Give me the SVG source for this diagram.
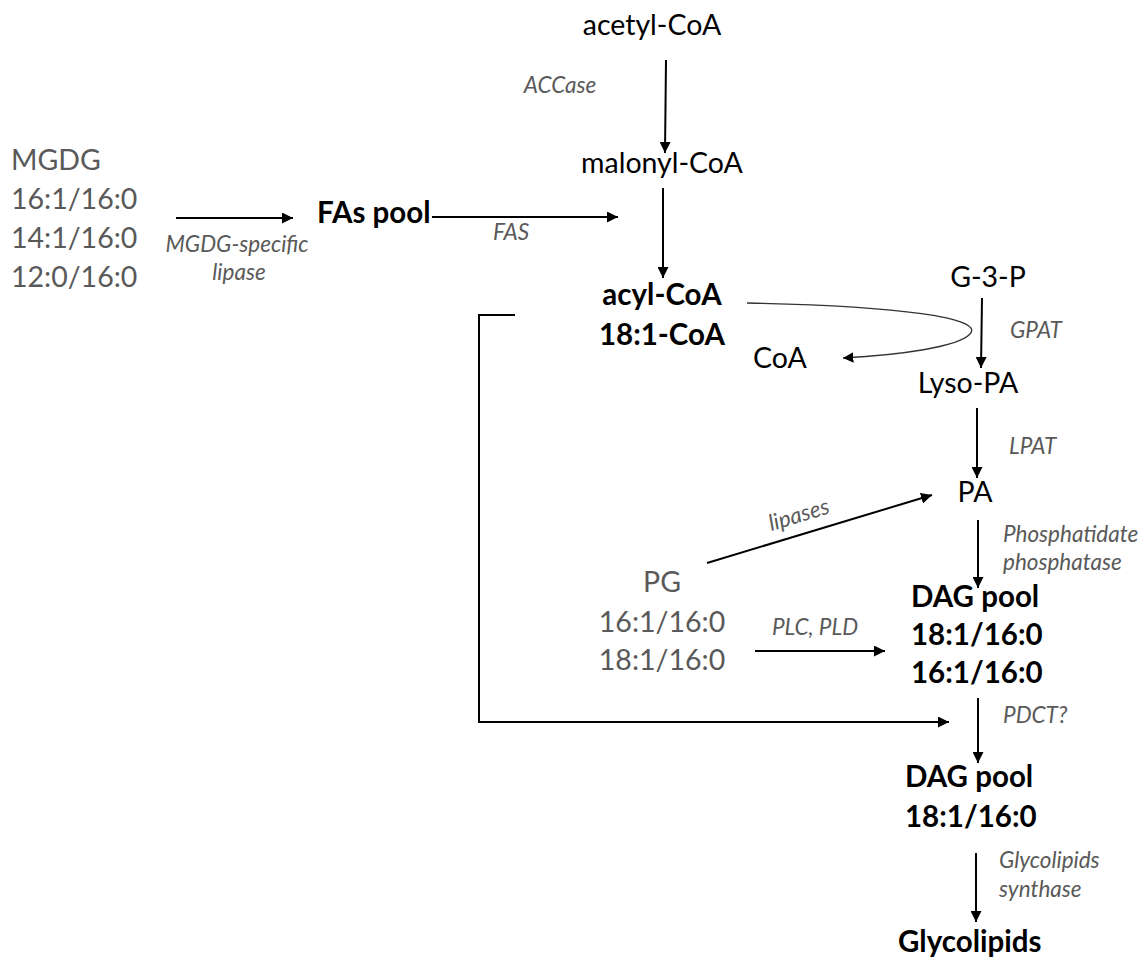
<svg xmlns="http://www.w3.org/2000/svg" width="1146" height="960" viewBox="0 0 1146 960">
<defs>
<marker id="ah" viewBox="0 0 10 10" refX="10" refY="5" markerWidth="5.5" markerHeight="5.5" orient="auto" markerUnits="strokeWidth">
<path d="M0,0 L10,5 L0,10 z" fill="#000"/>
</marker>
<marker id="ah2" viewBox="0 0 10 10" refX="10" refY="5" markerWidth="8" markerHeight="8" orient="auto" markerUnits="strokeWidth">
<path d="M0,0 L10,5 L0,10 z" fill="#000"/>
</marker>
</defs>
<style>
text{font-family:Lato,"Liberation Sans",sans-serif;}
.m{font-size:28.5px;fill:#000;}
.b{font-size:29.5px;font-weight:bold;fill:#000;}
.g{font-size:28.5px;fill:#595959;}
.e{font-size:22.5px;font-style:italic;fill:#595959;}
.c{text-anchor:middle;}
.ln{stroke:#000;stroke-width:2;fill:none;marker-end:url(#ah);}
</style>
<rect width="1146" height="960" fill="#fff"/>
<g id="connectors">
<line class="ln" x1="666" y1="60" x2="665" y2="153"/>
<line class="ln" x1="663" y1="188" x2="663" y2="278"/>
<line class="ln" x1="176" y1="218" x2="293" y2="218"/>
<line class="ln" x1="432" y1="217" x2="618" y2="217"/>
<path d="M747,303 C900,306 985,318 970,334 C958,347 900,355 843,358" stroke="#333" stroke-width="1.3" fill="none" marker-end="url(#ah2)"/>
<line class="ln" x1="982" y1="298" x2="981" y2="368"/>
<line class="ln" x1="977" y1="408" x2="977" y2="478"/>
<line class="ln" x1="707" y1="563" x2="932" y2="495"/>
<line class="ln" x1="978" y1="520" x2="978" y2="588"/>
<line class="ln" x1="755" y1="651" x2="885" y2="651"/>
<line class="ln" x1="978" y1="698" x2="978" y2="763"/>
<polyline class="ln" points="515,315 479,315 479,722 949,722"/>
<line class="ln" x1="976" y1="853" x2="976" y2="922"/>
</g>
<g id="acetyl"><text class="m c" x="652" y="35">acetyl-CoA</text></g>
<g id="accase"><text class="e c" x="560" y="93">ACCase</text></g>
<g id="malonyl"><text class="m c" x="662" y="173">malonyl-CoA</text></g>
<g id="mgdg">
<text class="g" x="11" y="170">MGDG</text>
<text class="g" x="11" y="209">16:1/16:0</text>
<text class="g" x="11" y="248">14:1/16:0</text>
<text class="g" x="11" y="287">12:0/16:0</text>
</g>
<g id="mgdg-lipase"><text class="e c" x="237" y="252">MGDG-specific</text><text class="e c" x="239" y="280">lipase</text></g>
<g id="fas-pool"><text class="b" x="317" y="223">FAs pool</text></g>
<g id="fas"><text class="e c" x="511" y="240">FAS</text></g>
<g id="acyl"><text class="b c" x="662" y="305">acyl-CoA</text><text class="b c" x="662" y="345">18:1-CoA</text></g>
<g id="coa"><text class="m c" x="780" y="368">CoA</text></g>
<g id="g3p"><text class="m c" x="988" y="287">G-3-P</text></g>
<g id="gpat"><text class="e" x="1010" y="338">GPAT</text></g>
<g id="lysopa"><text class="m c" x="968" y="393">Lyso-PA</text></g>
<g id="lpat"><text class="e" x="1009" y="454">LPAT</text></g>
<g id="pa"><text class="m c" x="975" y="502">PA</text></g>
<g id="lipases"><text class="e c" transform="translate(801,522) rotate(-17)">lipases</text></g>
<g id="pp"><text class="e" x="1003" y="542">Phosphatidate</text><text class="e" x="1003" y="570">phosphatase</text></g>
<g id="pg">
<text class="g c" x="662" y="592">PG</text>
<text class="g c" x="662" y="632">16:1/16:0</text>
<text class="g c" x="662" y="670">18:1/16:0</text>
</g>
<g id="plc"><text class="e c" x="815" y="635">PLC, PLD</text></g>
<g id="dag1">
<text class="b" x="911" y="607">DAG pool</text>
<text class="b" x="911" y="645">18:1/16:0</text>
<text class="b" x="911" y="683">16:1/16:0</text>
</g>
<g id="pdct"><text class="e" x="1003" y="723">PDCT?</text></g>
<g id="dag2">
<text class="b" x="905" y="787">DAG pool</text>
<text class="b" x="905" y="827">18:1/16:0</text>
</g>
<g id="gs"><text class="e" x="999" y="868">Glycolipids</text><text class="e" x="999" y="897">synthase</text></g>
<g id="glyco"><text class="b" x="898" y="952">Glycolipids</text></g>
</svg>
